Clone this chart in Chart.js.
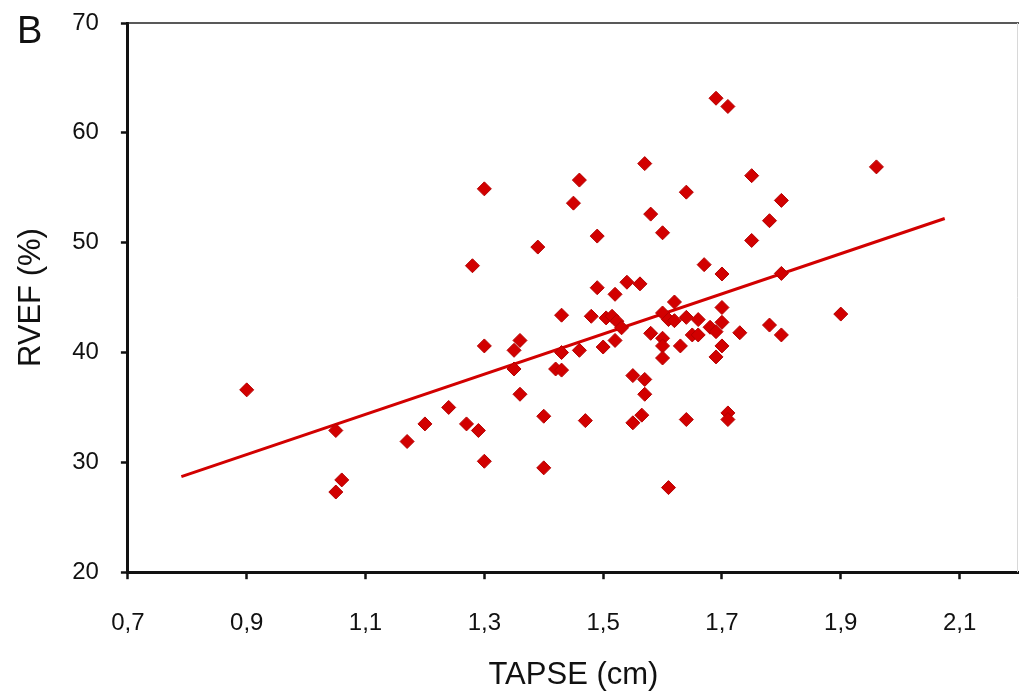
<!DOCTYPE html>
<html>
<head>
<meta charset="utf-8">
<title>RVEF vs TAPSE</title>
<script src="https://cdn.jsdelivr.net/npm/chart.js@4.4.1/dist/chart.umd.min.js"></script>
<style>
  html, body { margin: 0; padding: 0; background: #fff; }
  #chart { display: block; }
</style>
</head>
<body>
<canvas id="chart" width="1019" height="692"></canvas>
<script>
// TAPSE (cm) and RVEF (%) per patient
const tapse = [
  0.90, 1.05, 1.06, 1.05, 1.17, 1.20, 1.24, 1.27, 1.29, 1.28,
  1.30, 1.30, 1.30, 1.35, 1.36, 1.35, 1.36, 1.39, 1.40, 1.40,
  1.42, 1.43, 1.43, 1.43, 1.45, 1.46, 1.46, 1.47, 1.48, 1.49,
  1.49, 1.50, 1.505, 1.515, 1.52, 1.52, 1.523, 1.531, 1.54, 1.55,
  1.55, 1.565, 1.562, 1.57, 1.57, 1.57, 1.58, 1.58, 1.60, 1.60,
  1.60, 1.60, 1.60, 1.61, 1.61, 1.62, 1.62, 1.63, 1.64, 1.64,
  1.64, 1.65, 1.66, 1.66, 1.67, 1.68, 1.69, 1.69, 1.69, 1.70,
  1.70, 1.70, 1.70, 1.71, 1.71, 1.71, 1.73, 1.75, 1.75, 1.78,
  1.78, 1.80, 1.80, 1.80, 1.90, 1.96
];
const rvef = [
  36.6, 32.9, 28.4, 27.3, 31.9, 33.5, 35.0, 33.5, 32.9, 47.9,
  54.9, 40.6, 30.1, 40.2, 41.1, 38.5, 36.2, 49.6, 34.2, 29.5,
  38.5, 38.4, 43.4, 40.0, 53.6, 55.7, 40.2, 33.8, 43.3, 45.9,
  50.6, 40.5, 43.15, 43.3, 45.3, 41.1, 42.85, 42.25, 46.4, 37.9,
  33.6, 34.3, 46.25, 37.55, 36.2, 57.2, 52.6, 41.75, 50.9, 43.6,
  41.3, 40.6, 39.5, 27.7, 43.0, 44.6, 42.9, 40.6, 54.6, 33.9,
  43.2, 41.6, 41.6, 43.0, 48.0, 42.3, 63.15, 39.6, 41.9, 47.15,
  44.1, 42.75, 40.6, 62.4, 34.5, 33.9, 41.8, 56.1, 50.2, 52.0,
  42.5, 53.85, 47.2, 41.6, 43.5, 56.9
];

// regression line end points
const trendX = [0.79, 2.075];
const trendY = [28.7, 52.2];

const xTicks = [0.7, 0.9, 1.1, 1.3, 1.5, 1.7, 1.9, 2.1];
const yTicks = [20, 30, 40, 50, 60, 70];

const RED = '#d20000';

// frame line on top + faint right edge, and the panel letter
const frame = {
  id: 'frame',
  afterDraw(chart) {
    const { ctx, chartArea: a } = chart;
    ctx.save();
    ctx.strokeStyle = '#222';
    ctx.lineWidth = 1.5;
    ctx.beginPath();
    ctx.moveTo(a.left, a.top);
    ctx.lineTo(a.right, a.top);
    ctx.stroke();
    ctx.strokeStyle = '#d8d8d8';
    ctx.lineWidth = 1;
    ctx.beginPath();
    ctx.moveTo(1017.5, a.top);
    ctx.lineTo(1017.5, a.bottom);
    ctx.stroke();
    ctx.fillStyle = '#111';
    ctx.font = '38px "Liberation Sans", Arial, sans-serif';
    ctx.textBaseline = 'alphabetic';
    ctx.fillText('B', 17, 43);
    ctx.restore();
  }
};

const fontFamily = '"Liberation Sans", Arial, sans-serif';

new Chart(document.getElementById('chart'), {
  type: 'scatter',
  data: {
    datasets: [
      {
        data: tapse.map((x, i) => ({ x: x, y: rvef[i] })),
        pointStyle: 'rectRot',
        pointRadius: 7,
        backgroundColor: RED,
        borderColor: '#b40000',
        borderWidth: 1
      },
      {
        data: trendX.map((x, i) => ({ x: x, y: trendY[i] })),
        showLine: true,
        pointRadius: 0,
        borderColor: RED,
        borderWidth: 3
      }
    ]
  },
  options: {
    responsive: false,
    animation: false,
    layout: { autoPadding: false, padding: { top: 23, left: 13, right: 0, bottom: -2 } },
    plugins: { legend: { display: false }, tooltip: { enabled: false } },
    scales: {
      x: {
        type: 'linear',
        min: 0.7,
        max: 2.2,
        afterBuildTicks: s => { s.ticks = xTicks.map(v => ({ value: v })); },
        border: { display: true, color: '#111', width: 3 },
        grid: { drawOnChartArea: false, drawTicks: true, tickLength: 7, tickWidth: 2.5, tickColor: '#111' },
        ticks: {
          color: '#111',
          font: { family: fontFamily, size: 24, lineHeight: 2.15 },
          padding: 18,
          maxRotation: 0,
          callback: v => v.toFixed(1).replace('.', ',')
        },
        title: {
          display: true,
          text: 'TAPSE (cm)',
          color: '#111',
          font: { family: fontFamily, size: 31 },
          padding: { top: -10, bottom: 0 }
        }
      },
      y: {
        type: 'linear',
        min: 20,
        max: 70,
        afterBuildTicks: s => { s.ticks = yTicks.map(v => ({ value: v })); },
        border: { display: true, color: '#111', width: 3 },
        grid: { drawOnChartArea: false, drawTicks: true, tickLength: 7, tickWidth: 2.5, tickColor: '#111' },
        ticks: {
          color: '#111',
          font: { family: fontFamily, size: 24, lineHeight: 0.05 },
          padding: 22
        },
        title: {
          display: true,
          text: 'RVEF (%)',
          color: '#111',
          font: { family: fontFamily, size: 31 },
          padding: { top: 0, bottom: 0 }
        }
      }
    }
  },
  plugins: [frame]
});
</script>
</body>
</html>
